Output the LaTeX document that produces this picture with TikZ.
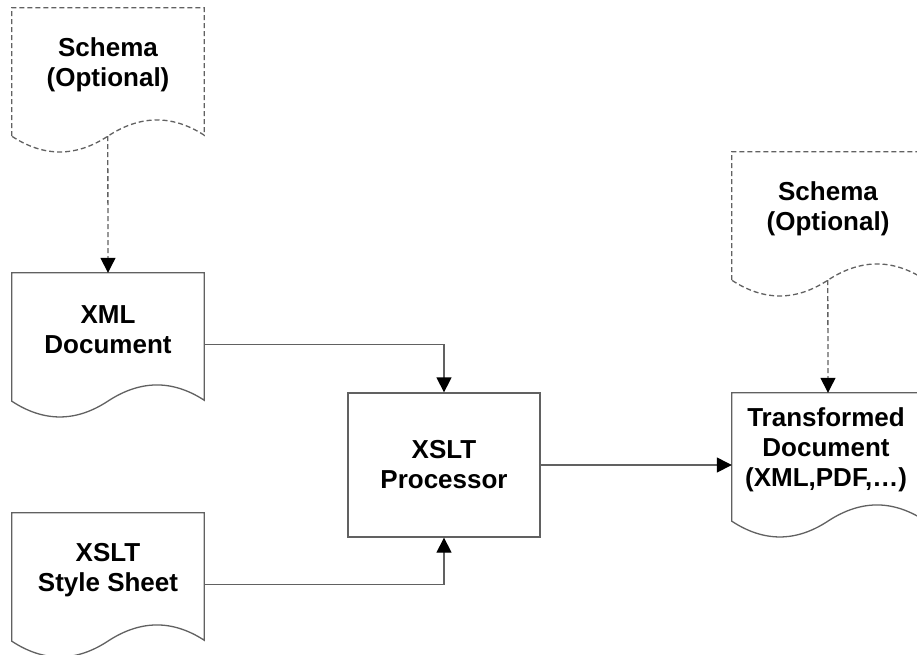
\documentclass[tikz,border=0pt]{standalone}
\usepackage{fontspec}
\setmainfont{Liberation Sans}
\usetikzlibrary{arrows.meta,calc}
\tikzset{
  doc/.style={minimum width=192pt, minimum height=114pt, inner sep=0pt, align=center,
    font=\fontsize{26}{30}\selectfont\bfseries},
  proc/.style={doc, minimum height=144pt, draw=black!62, line width=1.3pt, fill=white},
  line/.style={draw=black!62, line width=1.3pt},
  dashline/.style={line, dash pattern=on 5pt off 3pt},
  arr/.style={-{Triangle[length=15pt,width=15pt,color=black]}},
}
\newcommand\docwave[2]{%
  \draw[#2, fill=white] ($(#1.south west)+(0,14)$) -- (#1.north west) -- (#1.north east)
    -- ($(#1.south east)+(0,13)$)
    .. controls ($(#1.south west)+(160,-8)$) and ($(#1.south west)+(128,-7)$) .. ($(#1.south west)+(96,14)$)
    .. controls ($(#1.south west)+(64,35)$) and ($(#1.south west)+(32,35)$) .. cycle;}
\begin{document}
\begin{tikzpicture}[x=1pt,y=-1pt]
\useasboundingbox (0,0) rectangle (917,654);
\clip (0,0) rectangle (917,654);
% document shapes
\node[doc] (s1) at (108,65) {};
\node[doc] (xml) at (108,330) {};
\node[doc] (xsl) at (108,570) {};
\node[doc] (s2) at (828,209) {};
\node[doc] (out) at (828,450) {};
\docwave{s1}{dashline}
\docwave{xml}{line}
\docwave{xsl}{line}
\docwave{s2}{dashline}
\docwave{out}{line}
\node[doc] (s1t) at (s1) {Schema\\(Optional)};
\node[doc] (xmlt) at (xml) {XML\\Document};
\node[doc] (xslt) at (xsl) {XSLT\\Style Sheet};
\node[doc] (s2t) at (s2) {Schema\\(Optional)};
\node[doc] (outt) at ($(out)+(-2,0)$) {Transformed\\Document\\(XML,PDF,…)};
\node[proc] (proc) at (444,465) {XSLT\\Processor};
% connectors
\draw[dashline, arr] ($(s1.south west)+(96,14)$) -- (xml.north);
\draw[dashline, arr] ($(s2.south west)+(96,14)$) -- (out.north);
\draw[line, arr] ($(xml.north east)+(0,72)$) -| (proc.north);
\draw[line, arr] ($(xsl.north east)+(0,72)$) -| (proc.south);
\draw[line, arr] (proc.east) -- (proc.east -| out.north west);
\end{tikzpicture}
\end{document}
